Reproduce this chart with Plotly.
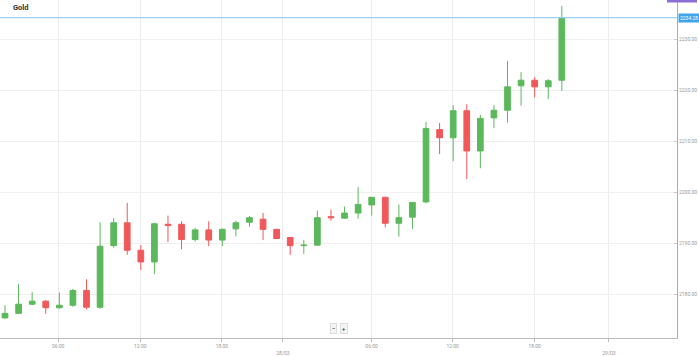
import plotly.graph_objects as go

# Hourly candles (index positions)
opens  = [2175.3, 2176.2, 2178.0, 2178.6, 2177.3, 2177.8, 2180.7, 2177.4, 2189.5, 2194.0,
          2188.6, 2186.3, 2193.7, 2193.7, 2190.7, 2192.6, 2190.6, 2192.8, 2194.1, 2194.7,
          2192.7, 2191.1, 2189.5, 2189.6, 2195.2, 2194.9, 2195.9, 2197.5, 2199.0, 2193.9,
          2195.1, 2198.1, 2212.3, 2210.7, 2216.0, 2208.1, 2214.6, 2216.1, 2220.9, 2222.0,
          2220.7, 2222.0]
highs  = [2177.8, 2182.0, 2180.4, 2178.8, 2180.3, 2181.0, 2182.9, 2194.1, 2194.9, 2197.9,
          2189.6, 2194.0, 2195.4, 2194.3, 2193.0, 2194.3, 2192.9, 2194.4, 2195.3, 2195.9,
          2192.8, 2191.2, 2190.6, 2196.4, 2196.6, 2197.2, 2201.0, 2199.0, 2199.1, 2197.6,
          2198.0, 2213.8, 2213.6, 2217.1, 2217.3, 2215.2, 2217.1, 2225.8, 2223.6, 2222.6,
          2222.2, 2236.6]
lows   = [2175.2, 2176.1, 2177.8, 2176.1, 2177.1, 2177.5, 2177.0, 2177.1, 2189.1, 2187.7,
          2184.7, 2183.9, 2190.2, 2188.8, 2190.3, 2189.4, 2189.4, 2191.3, 2193.2, 2190.6,
          2190.8, 2187.7, 2187.9, 2189.5, 2194.4, 2194.8, 2194.8, 2195.4, 2193.1, 2191.3,
          2192.8, 2197.8, 2207.5, 2206.1, 2202.6, 2204.7, 2212.6, 2213.7, 2217.0, 2218.6,
          2218.3, 2219.9]
closes = [2176.2, 2178.0, 2178.6, 2177.3, 2177.8, 2180.7, 2177.4, 2189.4, 2194.0, 2188.6,
          2186.3, 2193.8, 2193.5, 2190.7, 2192.6, 2190.6, 2192.7, 2194.0, 2195.0, 2192.7,
          2190.9, 2189.5, 2189.6, 2195.0, 2195.0, 2195.9, 2197.6, 2199.0, 2193.9, 2195.0,
          2198.0, 2212.5, 2210.7, 2216.0, 2208.1, 2214.5, 2216.1, 2220.7, 2222.0, 2220.7,
          2221.9, 2234.28]
idx = list(range(len(opens)))

last_price = 2234.28
x_tick_vals = [3.91, 9.96, 15.97, 20.46, 26.99, 32.96, 39.0, 44.47]
x_tick_text = ["06:00", "12:00", "18:00", "<br>28/03", "06:00", "12:00", "18:00", "<br>29/03"]
y_tick_vals = [2180, 2190, 2200, 2210, 2220, 2230]

GREEN = "#5cb85c"
RED = "#f0585a"

PW, PH = 677, 338  # plot area size in px

fig = go.Figure()
fig.add_trace(go.Candlestick(
    x=idx, open=opens, high=highs, low=lows, close=closes,
    increasing=dict(line=dict(color=GREEN, width=1), fillcolor=GREEN),
    decreasing=dict(line=dict(color=RED, width=1), fillcolor=RED),
    whiskerwidth=0, showlegend=False, hoverinfo="skip",
))

fig.add_shape(type="line", xref="paper", x0=0, x1=1, yref="y", y0=last_price, y1=last_price,
              line=dict(color="#9ccff0", width=1.2))
# top purple label (cut off)
fig.add_shape(type="rect", xref="paper", x0=667/PW, x1=697/PW, yref="paper",
              y0=1 - 2.5/PH, y1=1.02, fillcolor="#8c6fd6", line=dict(width=0), layer="above")

fig.add_annotation(xref="paper", yref="y", x=1.001, y=last_price, xanchor="left", yanchor="middle",
                   text="2234.28", showarrow=False, font=dict(size=5, color="white", family="Roboto"),
                   bgcolor="#3fa4ea", borderpad=1)
fig.add_annotation(xref="paper", yref="paper", x=11/PW, y=1 - 1/PH, xanchor="left", yanchor="top",
                   text="<b>Gold</b>", showarrow=False, font=dict(size=7.5, color="#333333", family="Roboto"))
for px, t in [(333.5, "−"), (344, "+")]:
    fig.add_annotation(xref="paper", yref="paper", x=px/PW, y=10/PH, xanchor="center",
                       yanchor="middle", text="<b>" + t + "</b>", showarrow=False,
                       font=dict(size=6, color="#555555", family="Roboto"),
                       bgcolor="#f4f4f4", bordercolor="#dddddd", borderwidth=1, borderpad=1)

fig.update_layout(
    width=699, height=356,
    margin=dict(l=0, r=699 - PW, t=0, b=356 - PH),
    paper_bgcolor="white", plot_bgcolor="white",
    boxgap=0.4,
    font=dict(family="Roboto", size=5, color="#999999"),
    xaxis=dict(range=[-0.369, 49.48], tickvals=x_tick_vals, ticktext=x_tick_text,
               showgrid=True, gridcolor="#ececec", gridwidth=1, zeroline=False,
               showline=True, linecolor="#bbbbbb", linewidth=1,
               ticks="outside", ticklen=3, tickcolor="#bbbbbb",
               tickfont=dict(size=5, color="#999999"), automargin=False,
               rangeslider=dict(visible=False), fixedrange=True),
    yaxis=dict(range=[2171.36, 2237.76], side="right", tickvals=y_tick_vals, tickformat=".2f",
               showgrid=True, gridcolor="#f0f0f0", gridwidth=1, zeroline=False,
               showline=True, linecolor="#aaaaaa", linewidth=1,
               ticks="inside", ticklen=3, tickcolor="#cccccc", automargin=False,
               tickfont=dict(size=5, color="#999999"), fixedrange=True),
)

fig.write_html("out.html", config={"displayModeBar": False},
               post_script="document.body.style.margin='0';document.body.style.overflow='hidden';")
